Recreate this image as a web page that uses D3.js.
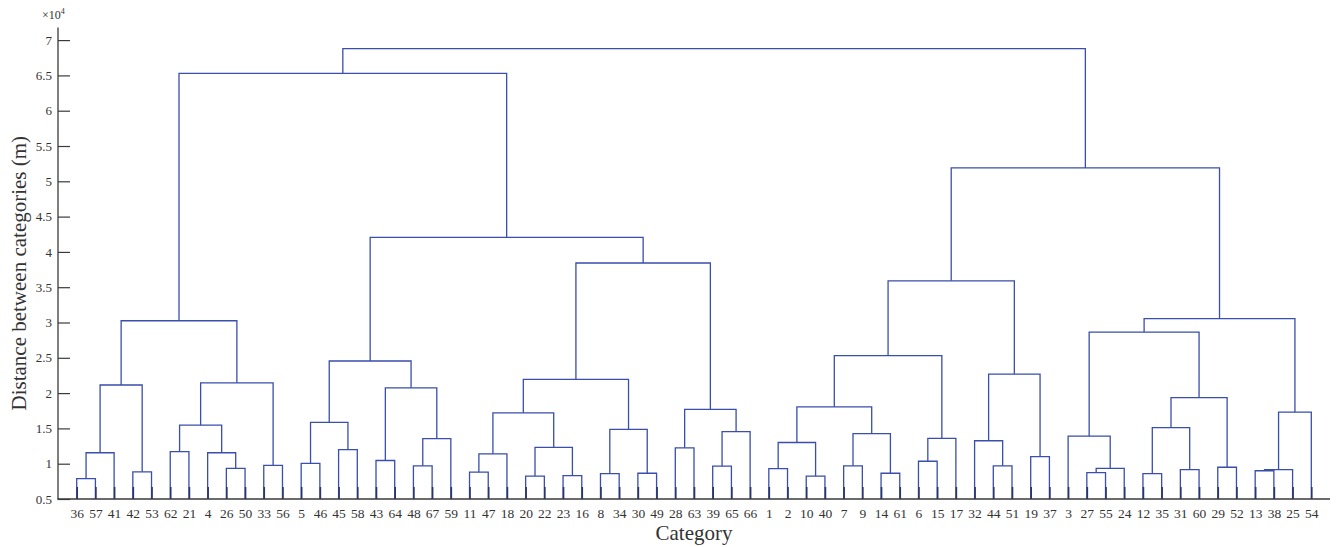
<!DOCTYPE html>
<html>
<head>
<meta charset="utf-8">
<script src="https://cdn.jsdelivr.net/npm/d3@7"></script>
<style>
  html, body { margin: 0; padding: 0; background: #fff; }
  svg { display: block; }
  text { font-family: "Liberation Serif", "DejaVu Serif", serif; fill: #333; }
</style>
</head>
<body>
<svg id="chart" width="1341" height="547"></svg>
<script>
// Leaf labels, left to right along the x axis
const leafOrder = [36, 57, 41, 42, 53, 62, 21, 4, 26, 50, 33, 56, 5, 46, 45, 58, 43, 64, 48, 67, 59,
  11, 47, 18, 20, 22, 23, 16, 8, 34, 30, 49, 28, 63, 39, 65, 66, 1, 2, 10, 40, 7, 9, 14, 61,
  6, 15, 17, 32, 44, 51, 19, 37, 3, 27, 55, 24, 12, 35, 31, 60, 29, 52, 13, 38, 25, 54];

// Merge list: [node id, left child, right child] (numbers are leaves, strings are clusters)
const mergeIds = [
  ["a1", 36, 57], ["a2", "a1", 41], ["a3", 42, 53], ["a4", "a2", "a3"], ["a5", 62, 21],
  ["a6", 26, 50], ["a7", 4, "a6"], ["a8", "a5", "a7"], ["a9", 33, 56], ["a10", "a8", "a9"],
  ["a11", "a4", "a10"],
  ["b1", 5, 46], ["b2", 45, 58], ["b3", "b1", "b2"], ["b4", 43, 64], ["b5", 48, 67],
  ["b6", "b5", 59], ["b7", "b4", "b6"], ["b8", "b3", "b7"],
  ["c1", 11, 47], ["c2", "c1", 18], ["c3", 20, 22], ["c4", 23, 16], ["c5", "c3", "c4"],
  ["c6", "c2", "c5"], ["c7", 8, 34], ["c8", 30, 49], ["c9", "c7", "c8"], ["c10", "c6", "c9"],
  ["c11", 28, 63], ["c12", 39, 65], ["c13", "c12", 66], ["c14", "c11", "c13"],
  ["c15", "c10", "c14"], ["c16", "b8", "c15"], ["A", "a11", "c16"],
  ["d1", 1, 2], ["d2", 10, 40], ["d3", "d1", "d2"], ["d4", 7, 9], ["d5", 14, 61],
  ["d6", "d4", "d5"], ["d7", "d3", "d6"], ["d8", 6, 15], ["d9", "d8", 17], ["d10", "d7", "d9"],
  ["e1", 44, 51], ["e2", 32, "e1"], ["e3", 19, 37], ["e4", "e2", "e3"], ["e5", "d10", "e4"],
  ["f1", 27, 55], ["f2", "f1", 24], ["f3", 3, "f2"], ["f4", 12, 35], ["f5", 31, 60],
  ["f6", "f4", "f5"], ["f7", 29, 52], ["f8", "f6", "f7"], ["f9", "f3", "f8"],
  ["g1", 13, 38], ["g2", "g1", 25], ["g3", "g2", 54], ["f10", "f9", "g3"],
  ["B", "e5", "f10"], ["root", "A", "B"]
];

// Merge heights (×10^4 m), same order as mergeIds
const mergeHeights = [
  0.79, 1.155, 0.885, 2.115, 1.17,
  0.935, 1.155, 1.545, 0.975, 2.145,
  3.025,
  1.005, 1.20, 1.585, 1.045, 0.97,
  1.355, 2.075, 2.455,
  0.88, 1.14, 0.825, 0.83, 1.23,
  1.72, 0.86, 0.865, 1.485, 2.195,
  1.225, 0.965, 1.455, 1.77,
  3.843, 4.205, 6.53,
  0.93, 0.825, 1.30, 0.97, 0.865,
  1.425, 1.805, 1.035, 1.36, 2.53,
  0.97, 1.325, 1.10, 2.27, 3.59,
  0.875, 0.935, 1.39, 0.86, 0.915,
  1.51, 0.95, 1.935, 2.865,
  0.90, 0.915, 1.73, 3.055,
  5.19, 6.88
];

const yTicks = [0.5, 1, 1.5, 2, 2.5, 3, 3.5, 4, 4.5, 5, 5.5, 6, 6.5, 7];

const svg = d3.select("#chart");
const plotLeft = 58, plotRight = 1330, plotBottom = 499, plotTop = 27.4;
const lineColor = "#3a4eab";

const x = d3.scaleLinear().domain([0, leafOrder.length + 1]).range([plotLeft, plotRight]);
const y = d3.scaleLinear().domain([0.5, 7.18]).range([plotBottom, plotTop]);

// Build a nested hierarchy from the merge list
const nodes = new Map();
leafOrder.forEach((lab, i) => nodes.set(lab, { name: lab, pos: i + 1, height: 0.5 }));
mergeIds.forEach(([id, l, r], i) => {
  nodes.set(id, { name: id, height: mergeHeights[i], children: [nodes.get(l), nodes.get(r)] });
});
const root = d3.hierarchy(nodes.get("root"));
root.eachAfter(n => {
  if (n.children) n.xv = d3.mean(n.children, c => c.xv);
  else n.xv = n.data.pos;
});

// Dendrogram links: two verticals and a horizontal bar per merge
const g = svg.append("g");
root.each(n => {
  if (!n.children) return;
  const [a, b] = n.children;
  const hy = y(n.data.height);
  const path = d3.path();
  path.moveTo(x(a.xv), y(a.data.height));
  path.lineTo(x(a.xv), hy);
  path.lineTo(x(b.xv), hy);
  path.lineTo(x(b.xv), y(b.data.height));
  g.append("path")
    .attr("d", path.toString())
    .attr("fill", "none")
    .attr("stroke", lineColor)
    .attr("stroke-width", 1.3);
});

// Y axis with inward ticks
const yAxis = d3.axisRight(y).tickValues(yTicks).tickSize(12).tickFormat(d3.format("~g"));
const yg = svg.append("g").attr("transform", `translate(${plotLeft},0)`).call(yAxis);
yg.select(".domain").remove();
yg.selectAll(".tick line").attr("stroke", "#3a3a3a").attr("stroke-width", 1.2);
yg.selectAll(".tick text")
  .attr("x", -6).attr("text-anchor", "end")
  .style("font-size", "13px").attr("fill", "#333");
svg.append("line").attr("x1", plotLeft).attr("x2", plotLeft).attr("y1", plotTop).attr("y2", plotBottom + 0.5)
  .attr("stroke", "#3a3a3a").attr("stroke-width", 1.3);

// X axis with leaf labels and inward ticks
const xAxis = d3.axisBottom(x)
  .tickValues(leafOrder.map((d, i) => i + 1))
  .tickSize(0)
  .tickFormat((d) => leafOrder[d - 1]);
const xg = svg.append("g").attr("transform", `translate(0,${plotBottom})`).call(xAxis);
xg.select(".domain").remove();
xg.selectAll(".tick text").attr("y", 9).attr("dy", "0.71em")
  .style("font-size", "13.5px").attr("fill", "#333");
xg.selectAll(".tick").append("line")
  .attr("y1", 0).attr("y2", -12)
  .attr("stroke", "#2c3568").attr("stroke-width", 1.6);
svg.append("line").attr("x1", plotLeft - 0.5).attr("x2", plotRight).attr("y1", plotBottom).attr("y2", plotBottom)
  .attr("stroke", "#3a3a3a").attr("stroke-width", 1.3);

// Exponent marker
const expo = svg.append("text").attr("x", 42).attr("y", 19).style("font-size", "12px");
expo.append("tspan").text("×10");
expo.append("tspan").attr("dy", -5).style("font-size", "8px").text("4");

// Axis titles
svg.append("text")
  .attr("transform", `translate(26,${(plotTop + plotBottom) / 2 + 10}) rotate(-90)`)
  .attr("text-anchor", "middle")
  .style("font-size", "21px")
  .text("Distance between categories (m)");
svg.append("text")
  .attr("x", (plotLeft + plotRight) / 2).attr("y", 540)
  .attr("text-anchor", "middle")
  .style("font-size", "21px")
  .text("Category");
</script>
</body>
</html>
